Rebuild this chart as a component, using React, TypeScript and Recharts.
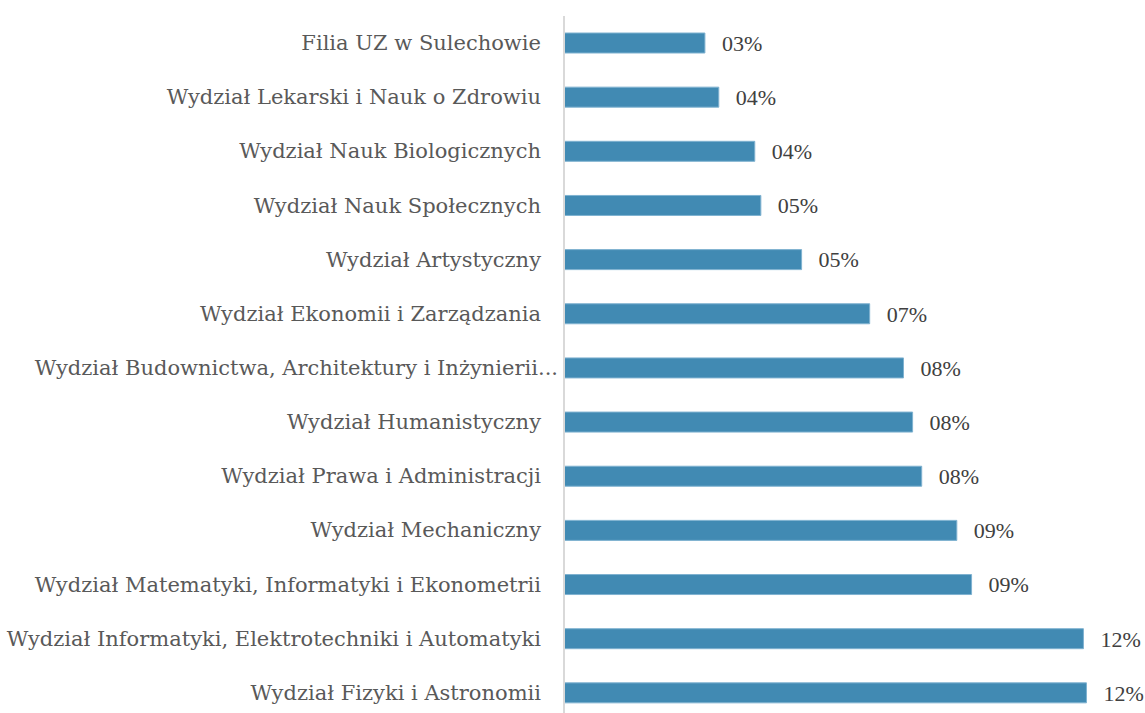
import { BarChart, Bar, XAxis, YAxis, LabelList } from "recharts";

const faculties = [
  "Filia UZ w Sulechowie",
  "Wydział Lekarski i Nauk o Zdrowiu",
  "Wydział Nauk Biologicznych",
  "Wydział Nauk Społecznych",
  "Wydział Artystyczny",
  "Wydział Ekonomii i Zarządzania",
  "Wydział Budownictwa, Architektury i Inżynierii...",
  "Wydział Humanistyczny",
  "Wydział Prawa i Administracji",
  "Wydział Mechaniczny",
  "Wydział Matematyki, Informatyki i Ekonometrii",
  "Wydział Informatyki, Elektrotechniki i Automatyki",
  "Wydział Fizyki i Astronomii",
];

const shares = [
  0.0325, 0.0357, 0.044, 0.0454, 0.0548, 0.0705, 0.0783, 0.0804, 0.0825, 0.0906, 0.094, 0.1198, 0.1205,
];

const data = faculties.map((name, i) => ({ name, share: shares[i] }));

const fmt = (v: number) => `${String(Math.round(v * 100)).padStart(2, "0")}%`;

function Tick({ x, y, payload }: any) {
  // Excel pushes the truncated label a bit further right
  const shift = String(payload.value).endsWith("...") ? 17 : 0;
  return (
    <text x={x + shift} y={y} dy={7} textAnchor="end" fill="#595959" fontSize={21} fontFamily="'DejaVu Serif', serif">
      {payload.value}
    </text>
  );
}

export default function App() {
  return (
    <div style={{ position: "absolute", left: 0, top: 0, background: "#fff" }}>
      <BarChart
        width={1145}
        height={724}
        layout="vertical"
        data={data}
        margin={{ top: 16, right: 0, bottom: 4, left: 0 }}
        barCategoryGap={0}
      >
        <XAxis type="number" hide domain={[0, 0.134]} />
        <YAxis
          type="category"
          dataKey="name"
          width={564}
          axisLine={{ stroke: "#D9D9D9", strokeWidth: 2 }}
          tickLine={false}
          tickSize={0}
          tickMargin={23}
          interval={0}
          tick={<Tick />}
        />
        <Bar dataKey="share" fill="#418AB3" stroke="#7FB2D0" strokeWidth={1} barSize={20} isAnimationActive={false}>
          <LabelList
            dataKey="share"
            position="right"
            offset={17}
            formatter={(v: any) => fmt(Number(v))}
            fill="#404040"
            fontSize={22}
            fontFamily="'Liberation Serif', serif"
          />
        </Bar>
      </BarChart>
    </div>
  );
}
